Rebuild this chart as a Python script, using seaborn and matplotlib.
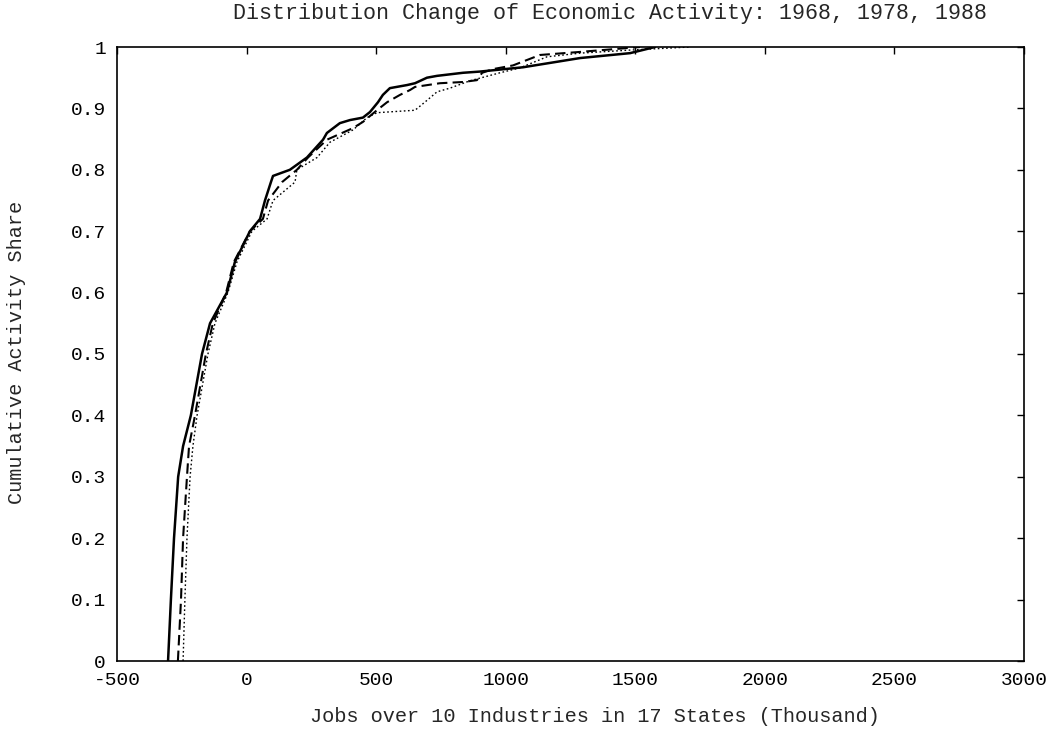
import numpy as np
import pandas as pd
import matplotlib
matplotlib.use("Agg")
import matplotlib.pyplot as plt
import seaborn as sns

# ---- data (x = jobs, y = cumulative share) ----
years = ["1968", "1978", "1988"]

jobs_1968 = [-303, -292, -280, -264, -245, -215, -172, -141, -76, -45, 13, 52, 71, 94, 102,
             167, 233, 295, 310, 360, 399, 449, 476, 507, 526, 553, 619, 650, 696, 735,
             835, 901, 1067, 1287, 1480, 1576]
share_1968 = [0.0, 0.1, 0.2, 0.3, 0.35, 0.4, 0.5, 0.55, 0.6, 0.65, 0.7, 0.72, 0.75, 0.78, 0.79,
              0.8, 0.82, 0.849, 0.86, 0.876, 0.881, 0.885, 0.894, 0.91, 0.922, 0.933, 0.938, 0.941,
              0.95, 0.953, 0.958, 0.96, 0.967, 0.982, 0.99, 1.0]

jobs_1978 = [-265, -253, -245, -230, -222, -199, -157, -130, -79, -49, 13, 63, 83, 137, 194,
             237, 310, 411, 449, 503, 542, 592, 631, 650, 746, 835, 889, 909, 951, 1028,
             1132, 1287, 1518]
share_1978 = [0.0, 0.1, 0.2, 0.3, 0.35, 0.4, 0.5, 0.55, 0.6, 0.65, 0.7, 0.72, 0.75, 0.78, 0.8,
              0.82, 0.849, 0.868, 0.878, 0.897, 0.91, 0.922, 0.93, 0.935, 0.941, 0.943, 0.946,
              0.958, 0.964, 0.97, 0.987, 0.992, 1.0]

jobs_1988 = [-245, -238, -230, -218, -207, -191, -149, -122, -72, -37, 21, 79, 102, 187, 194,
             272, 322, 411, 465, 503, 650, 696, 735, 785, 862, 978, 1055, 1159, 1287, 1480, 1711]
share_1988 = [0.0, 0.1, 0.2, 0.3, 0.35, 0.4, 0.5, 0.55, 0.6, 0.65, 0.7, 0.72, 0.75, 0.78, 0.8,
              0.82, 0.845, 0.865, 0.885, 0.893, 0.897, 0.913, 0.927, 0.933, 0.945, 0.958, 0.966,
              0.984, 0.99, 0.995, 1.0]

x_ticks = [-500, 0, 500, 1000, 1500, 2000, 2500, 3000]
y_ticks = [0, 0.1, 0.2, 0.3, 0.4, 0.5, 0.6, 0.7, 0.8, 0.9, 1]
y_tick_labels = ["0", "0.1", "0.2", "0.3", "0.4", "0.5", "0.6", "0.7", "0.8", "0.9", "1"]

title = "Distribution Change of Economic Activity: 1968, 1978, 1988"
xlabel = "Jobs over 10 Industries in 17 States (Thousand)"
ylabel = "Cumulative Activity Share"

frames = []
for yr, xs, ys in [("1968", jobs_1968, share_1968),
                   ("1978", jobs_1978, share_1978),
                   ("1988", jobs_1988, share_1988)]:
    frames.append(pd.DataFrame({"jobs": xs, "share": ys, "year": yr}))
df = pd.concat(frames, ignore_index=True)

sns.set_style("white")
plt.rcParams["font.family"] = ["Liberation Mono", "DejaVu Sans Mono"]
plt.rcParams["font.size"] = 14

fig = plt.figure(figsize=(10.56, 7.39), dpi=100)
ax = fig.add_axes([117 / 1056, 1 - 661 / 739, (1024 - 117) / 1056, (661 - 47) / 739])

sns.lineplot(data=df, x="jobs", y="share", style="year", style_order=years,
             dashes={"1968": "", "1978": (5, 2.5), "1988": (1.2, 1.8)},
             color="black", estimator=None, sort=False, legend=False, ax=ax,
             linewidth=1.3)
for ln, lw in zip(ax.get_lines(), [1.8, 1.5, 1.0]):
    ln.set_linewidth(lw)

ax.set_xlim(-500, 3000)
ax.set_ylim(0, 1)
ax.set_xticks(x_ticks)
ax.set_xticklabels([str(t) for t in x_ticks])
ax.set_yticks(y_ticks)
ax.set_yticklabels(y_tick_labels)
ax.tick_params(direction="in", length=5, width=1.0, top=True, right=True,
               labelsize=14, colors="black", pad=8)
for sp in ax.spines.values():
    sp.set_visible(True)
    sp.set_color("black")
    sp.set_linewidth(1.2)

ax.set_xlabel("")
ax.set_ylabel("")
fig.text(610 / 1056, 1 - 14 / 739, title, ha="center", va="center", fontsize=15.6)
fig.text(595 / 1056, 1 - 716 / 739, xlabel, ha="center", va="center", fontsize=14.6)
fig.text(17 / 1056, 1 - 352 / 739, ylabel, ha="center", va="center", rotation=90, fontsize=14.6)

fig.savefig("out.png", dpi=100, facecolor="white")
